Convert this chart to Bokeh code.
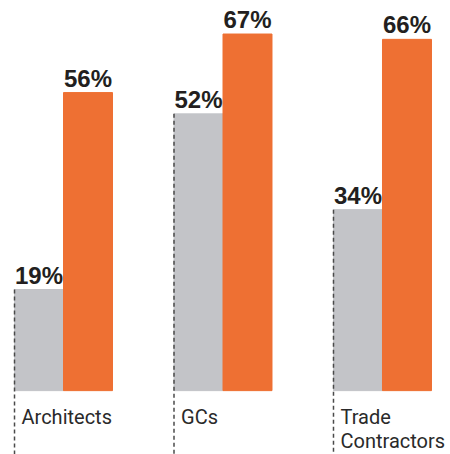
from bokeh.plotting import figure
from bokeh.models import FactorRange, Range1d, ColumnDataSource
from bokeh.transform import dodge
from bokeh.core.properties import value
from bokeh.embed import file_html
from bokeh.resources import INLINE

categories = ["Architects", "GCs", "Trade Contractors"]
category_labels = ["Architects", "GCs", "Trade\nContractors"]
series = ["gray", "orange"]
gray_values = [19, 52, 34]
orange_values = [56, 67, 66]

GRAY = "#c3c4c8"
ORANGE = "#ee7033"
TEXT = "#231f20"

Y0, Y1 = -12.0, 73.3

factors = [(c, s) for c in categories for s in series]
x_range = FactorRange(*factors, factor_padding=0, group_padding=1.255,
                      range_padding=0.286, range_padding_units="absolute")

p = figure(width=445, height=454, x_range=x_range, y_range=Range1d(Y0, Y1),
           output_backend="svg", toolbar_location=None, min_border=0,
           outline_line_color=None)
p.axis.visible = False
p.grid.visible = False
p.background_fill_color = "white"
p.border_fill_color = "white"

bars = ColumnDataSource(dict(
    x=factors,
    top=[v for pair in zip(gray_values, orange_values) for v in pair],
    color=[GRAY, ORANGE] * len(categories),
    label=[f"{v}%" for pair in zip(gray_values, orange_values) for v in pair],
))
p.vbar(x="x", top="top", bottom=0, width=1.0, color="color", source=bars)
p.text(x="x", y="top", text="label", source=bars, text_align="center",
       text_baseline="bottom", y_offset=-1,
       text_font=value("Liberation Sans"), text_font_style="bold",
       text_font_size="24px", text_color=TEXT)

cats = ColumnDataSource(dict(
    x=[(c, "gray") for c in categories],
    y0=gray_values,
    y1=[Y0] * len(categories),
    label=category_labels,
))
p.segment(x0=dodge("x", -0.5, range=x_range), y0="y0",
          x1=dodge("x", -0.5, range=x_range), y1="y1",
          source=cats, line_color="#4a4a4a", line_width=1.5, line_dash="4 3")
p.text(x=dodge("x", -0.5, range=x_range), y=0, text="label", source=cats,
       x_offset=7, y_offset=14, text_baseline="top", text_align="left",
       text_font=value("Roboto"), text_font_size="20px",
       text_line_height=1.0, text_color="#2a2a2a")

open("out.html", "w").write(file_html(p, INLINE))
